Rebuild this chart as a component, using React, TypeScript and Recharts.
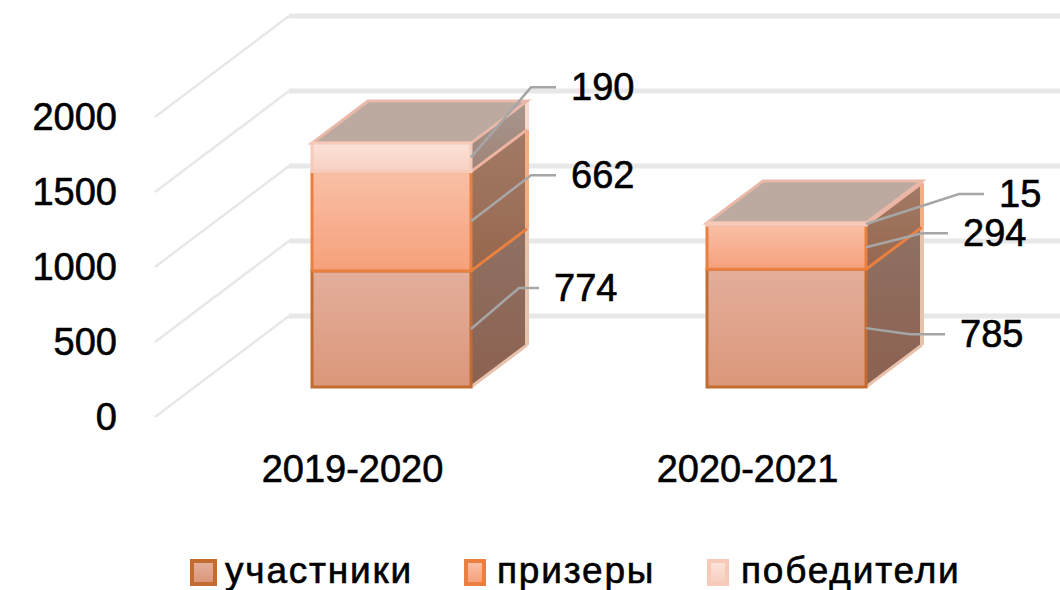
import React from "react";
import { ComposedChart, Bar, XAxis, YAxis, CartesianGrid, Legend, LabelList } from "recharts";

const categories = ["2019-2020", "2020-2021"];
const participants = [774, 785];
const prizeWinners = [662, 294];
const winners = [190, 15];
const yTicks = [0, 500, 1000, 1500, 2000];
const seriesNames = ["участники", "призеры", "победители"];

const rows = categories.map((category, i) => ({
  category,
  participants: participants[i],
  prizeWinners: prizeWinners[i],
  winners: winners[i],
}));

const FONT = "'Liberation Sans', Arial, sans-serif";
const DEPTH_X = 56;
const DEPTH_Y = 42;
const BAR_DX = 39;
const BAR_DY = -30;

const styles = [
  { id: "a", stroke: "#c26c32", diag: "#e8c2ac", pale: "#e6c4ac", top0: "#e3ae9b", bot0: "#dc977a", side0: "#8f7163", side1: "#8c6150" },
  { id: "b", stroke: "#e98040", diag: "#e98040", pale: "#f3ae83", top0: "#f9c0a6", bot0: "#f6a07b", side0: "#a27a66", side1: "#97674e" },
  { id: "c", stroke: "#f6c9b8", diag: "#eeb4a2", pale: "#f6d8cc", top0: "#fce2d9", bot0: "#f7cfc0", side0: "#a8968e", side1: "#a08478" },
];

// leader line geometry per series / category: elbow offset, run length
const leaders = [
  [{ ex: 48, ey: -41, run: 20 }, { ex: 44, ey: 6, run: 35 }],
  [{ ex: 60, ey: -46, run: 25 }, { ex: 56, ey: -14, run: 26 }],
  [{ ex: 60, ey: -70, run: 25 }, { ex: 93, ey: -30, run: 25 }],
];

function Box(props: any) {
  const { x, y, width, height, s, isTop } = props;
  const l = x + BAR_DX;
  const r = l + width;
  const t = y + BAR_DY;
  const b = t + height;
  const dx = DEPTH_X;
  const dy = DEPTH_Y;
  return (
    <g>
      <path
        d={`M${r},${b}L${r + dx},${b - dy}L${r + dx},${t - dy}L${r},${t}Z`}
        fill={`url(#side-${s.id})`}
      />
      <line x1={r + dx} y1={b - dy} x2={r + dx} y2={t - dy} stroke={s.pale} strokeWidth={4} />
      <line x1={r} y1={b} x2={r + dx} y2={b - dy} stroke={s.diag} strokeWidth={3} />
      {isTop && (
        <path
          d={`M${l},${t}L${l + dx},${t - dy}L${r + dx},${t - dy}L${r},${t}Z`}
          fill="#bcaaa1"
          stroke="#eab8a8"
          strokeWidth={3}
        />
      )}
      <rect x={l} y={t} width={width} height={height} fill={`url(#front-${s.id})`} stroke={s.stroke} strokeWidth={3} />
    </g>
  );
}

function Leader(props: any) {
  const { x, y, width, height, value, index, seriesIndex } = props;
  const o = leaders[seriesIndex][index];
  const sx = x + BAR_DX + width;
  const sy = y + BAR_DY + height / 2;
  const ex = sx + o.ex;
  const ey = sy + o.ey;
  return (
    <g>
      <polyline points={`${sx},${sy} ${ex},${ey} ${ex + o.run},${ey}`} fill="none" stroke="#a6a6a6" strokeWidth={2.5} />
      <text x={ex + o.run + 15} y={ey} dominantBaseline="central" fontFamily={FONT} fontSize={38} fill="#000" stroke="#000" strokeWidth={0.6}>
        {value}
      </text>
    </g>
  );
}

function GridLine(props: any) {
  const { x1, y1 } = props;
  return (
    <g>
      <line x1={x1} y1={y1} x2={x1 + 134} y2={y1 - 101} stroke="#e8e8e8" strokeWidth={2.5} />
      <line x1={x1 + 134} y1={y1 - 101} x2={1060} y2={y1 - 101} stroke="#e8e8e8" strokeWidth={5} />
    </g>
  );
}

const legendLayout = [
  { sx: 190, sw: 27, tx: 225 },
  { sx: 464, sw: 22, tx: 497 },
  { sx: 707, sw: 22, tx: 741 },
];

function LegendBody() {
  return (
    <div style={{ position: "relative", width: 1060, height: 36, fontFamily: FONT, fontSize: 37, letterSpacing: 1.8, color: "#000", WebkitTextStroke: "0.6px #000" }}>
      {seriesNames.map((name, i) => (
        <React.Fragment key={name}>
          <div
            style={{
              position: "absolute",
              left: legendLayout[i].sx,
              top: 6,
              width: legendLayout[i].sw,
              height: 27,
              boxSizing: "border-box",
              border: `4px solid ${styles[i].stroke}`,
              background: `linear-gradient(${styles[i].top0}, ${styles[i].bot0})`,
            }}
          />
          <div style={{ position: "absolute", left: legendLayout[i].tx, top: -3, lineHeight: "42px", whiteSpace: "nowrap" }}>{name}</div>
        </React.Fragment>
      ))}
    </div>
  );
}

const tickStyle = { fontFamily: FONT, fontSize: 38, fill: "#000", stroke: "#000", strokeWidth: 0.6 };

export default function App() {
  return (
    <div style={{ position: "absolute", left: 0, top: 0, width: 1060, height: 590, background: "#fff", overflow: "hidden" }}>
      <ComposedChart
        width={1060}
        height={590}
        data={rows}
        margin={{ top: 117, right: 115, bottom: 73, left: 0 }}
        barSize={159}
      >
        <defs>
          {styles.map((s) => (
            <React.Fragment key={s.id}>
              <linearGradient id={`front-${s.id}`} x1="0" y1="0" x2="0" y2="1">
                <stop offset="0%" stopColor={s.top0} />
                <stop offset="100%" stopColor={s.bot0} />
              </linearGradient>
              <linearGradient id={`side-${s.id}`} x1="0" y1="0" x2="0" y2="1">
                <stop offset="0%" stopColor={s.side0} />
                <stop offset="100%" stopColor={s.side1} />
              </linearGradient>
            </React.Fragment>
          ))}
        </defs>
        <CartesianGrid vertical={false} horizontal={(p: any) => <GridLine key={p.key ?? p.y1} {...p} />} />
        <XAxis
          dataKey="category"
          axisLine={false}
          tickLine={false}
          tickSize={0}
          tickMargin={38}
          height={60}
          interval={0}
          tick={tickStyle}
        />
        <YAxis
          width={155}
          domain={[0, 2000]}
          ticks={yTicks}
          axisLine={false}
          tickLine={false}
          tickSize={0}
          tickMargin={38}
          tick={tickStyle}
        />
        <Bar
          dataKey="participants"
          name={seriesNames[0]}
          stackId="s"
          isAnimationActive={false}
          shape={(p: any) => <Box {...p} s={styles[0]} />}
        >
          <LabelList dataKey="participants" content={(p: any) => <Leader {...p} seriesIndex={0} />} />
        </Bar>
        <Bar
          dataKey="prizeWinners"
          name={seriesNames[1]}
          stackId="s"
          isAnimationActive={false}
          shape={(p: any) => <Box {...p} s={styles[1]} />}
        >
          <LabelList dataKey="prizeWinners" content={(p: any) => <Leader {...p} seriesIndex={1} />} />
        </Bar>
        <Bar
          dataKey="winners"
          name={seriesNames[2]}
          stackId="s"
          isAnimationActive={false}
          shape={(p: any) => <Box {...p} s={styles[2]} isTop />}
        >
          <LabelList dataKey="winners" content={(p: any) => <Leader {...p} seriesIndex={2} />} />
        </Bar>
        <Legend
          verticalAlign="bottom"
          content={() => <LegendBody />}
          wrapperStyle={{ position: "absolute", left: 0, top: 553, bottom: "auto", width: 1060, height: 40 }}
        />
      </ComposedChart>
    </div>
  );
}
